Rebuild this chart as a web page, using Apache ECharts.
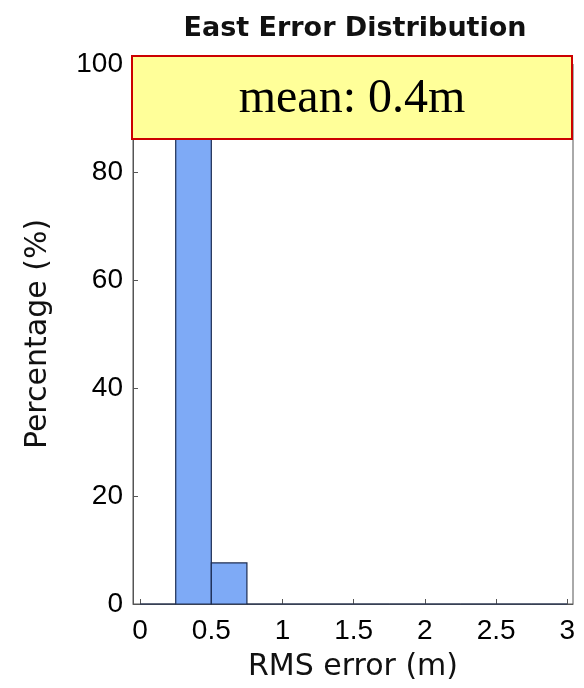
<!DOCTYPE html>
<html>
<head>
<meta charset="utf-8">
<script src="https://cdn.jsdelivr.net/npm/echarts@6/dist/echarts.min.js"></script>
<style>html,body{margin:0;padding:0;background:#fff;}#c{width:584px;height:688px;}</style>
</head>
<body>
<div id="c"></div>
<script>
var binStarts = [0, 0.25, 0.5, 0.75, 1.0, 1.25, 1.5, 1.75, 2.0, 2.25, 2.5, 2.75];
var binEnds   = [0.25, 0.5, 0.75, 1.0, 1.25, 1.5, 1.75, 2.0, 2.25, 2.5, 2.75, 3.0];
var percentages = [0, 92.4, 7.6, 0, 0, 0, 0, 0, 0, 0, 0, 0];
var xTicks = [0, 0.5, 1, 1.5, 2, 2.5, 3];
var xTickLabels = ['0', '0.5', '1', '1.5', '2', '2.5', '3'];
var titleText = 'East Error Distribution';
var xName = 'RMS error (m)';
var yName = 'Percentage (%)';
var meanText = 'mean: 0.4m';

var data = binStarts.map(function (s, i) { return [s, binEnds[i], percentages[i]]; });

var chart = echarts.init(document.getElementById('c'));
var font = '"Liberation Sans", Arial, sans-serif';
var wideFont = '"DejaVu Sans", "Liberation Sans", sans-serif';
chart.setOption({
  backgroundColor: '#ffffff',
  animation: false,
  title: {
    text: titleText, left: 350, top: 10, textAlign: 'center',
    textStyle: { fontFamily: wideFont, fontSize: 27, fontWeight: 'bold', color: '#111' }
  },
  grid: {
    left: 133, right: 11, top: 64, bottom: 84,
    show: true, borderColor: '#555', borderWidth: 1, backgroundColor: 'transparent'
  },
  xAxis: {
    type: 'value', min: -0.05, max: 3.04,
    name: xName, nameLocation: 'middle', nameGap: 48,
    nameTextStyle: { fontFamily: wideFont, fontSize: 30, color: '#111' },
    axisLine: { show: true, onZero: false, lineStyle: { color: '#555', width: 1 } },
    axisTick: { show: true, inside: true, length: 5, customValues: xTicks, lineStyle: { color: '#555' } },
    axisLabel: {
      customValues: xTicks, margin: 13,
      formatter: function (v) { var i = xTicks.indexOf(v); return i >= 0 ? xTickLabels[i] : ''; },
      fontFamily: font, fontSize: 28, color: '#000'
    },
    splitLine: { show: false }
  },
  yAxis: {
    type: 'value', min: 0, max: 100, interval: 20,
    name: yName, nameLocation: 'middle', nameGap: 80, nameRotate: 90,
    nameTextStyle: { fontFamily: wideFont, fontSize: 30, color: '#111' },
    axisLine: { show: true, onZero: false, lineStyle: { color: '#555', width: 1 } },
    axisTick: { show: true, inside: true, length: 5, lineStyle: { color: '#555' } },
    axisLabel: { margin: 10, fontFamily: font, fontSize: 28, color: '#000' },
    splitLine: { show: false }
  },
  series: [{
    type: 'custom',
    z: 2,
    data: data,
    encode: { x: [0, 1], y: 2 },
    renderItem: function (params, api) {
      var p0 = api.coord([api.value(0), api.value(2)]);
      var p1 = api.coord([api.value(1), 0]);
      return {
        type: 'rect',
        shape: { x: p0[0], y: p0[1], width: p1[0] - p0[0], height: p1[1] - p0[1] },
        style: { fill: '#7eaaf6', stroke: '#1c2c52', lineWidth: 1.2 }
      };
    }
  }],
  graphic: [{
    type: 'group', left: 131, top: 55, z: 100,
    children: [{
      type: 'rect', z: 100,
      shape: { x: 0, y: 0, width: 440, height: 83 },
      style: { fill: '#ffff99', stroke: '#cc0000', lineWidth: 2 }
    }, {
      type: 'text', z: 101,
      x: 220, y: 43,
      style: {
        text: meanText, align: 'center', verticalAlign: 'middle',
        font: '48px "Liberation Serif", "Times New Roman", serif', fill: '#000'
      }
    }]
  }]
});
</script>
</body>
</html>
